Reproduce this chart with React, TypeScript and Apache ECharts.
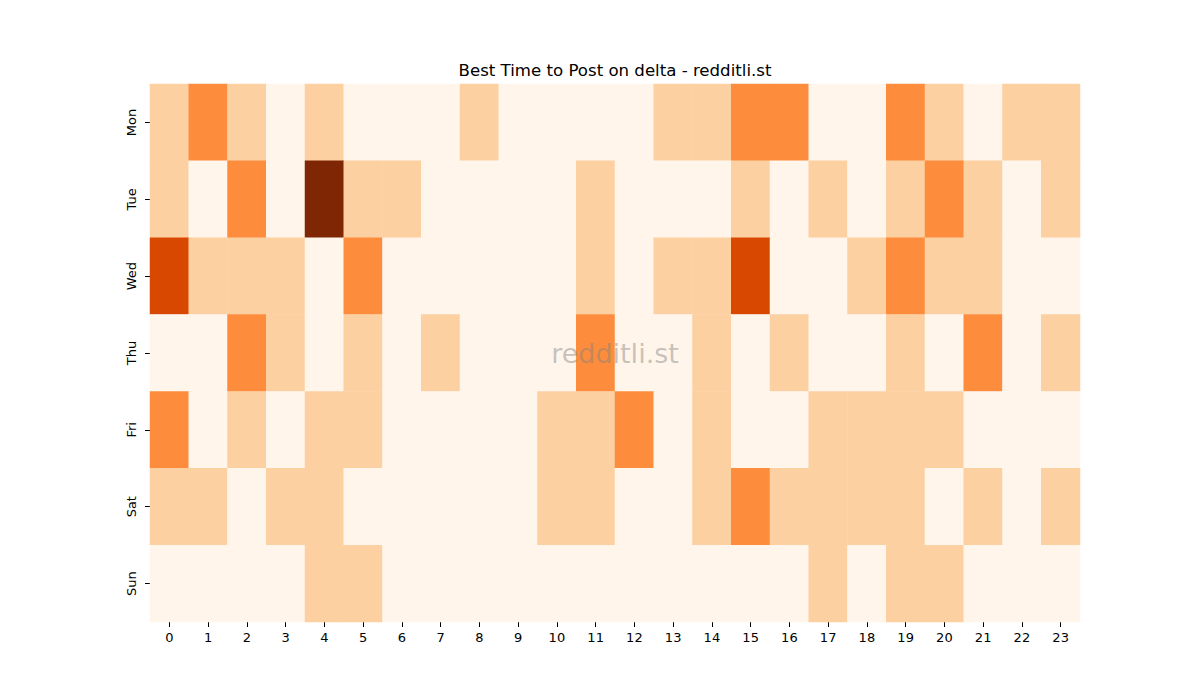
import React, { useEffect, useRef } from "react";
import * as echarts from "echarts";

const hours = Array.from({ length: 24 }, (_, i) => String(i));
const days = ["Mon", "Tue", "Wed", "Thu", "Fri", "Sat", "Sun"];

const mon = [1, 2, 1, 0, 1, 0, 0, 0, 1, 0, 0, 0, 0, 1, 1, 2, 2, 0, 0, 2, 1, 0, 1, 1];
const tue = [1, 0, 2, 0, 4, 1, 1, 0, 0, 0, 0, 1, 0, 0, 0, 1, 0, 1, 0, 1, 2, 1, 0, 1];
const wed = [3, 1, 1, 1, 0, 2, 0, 0, 0, 0, 0, 1, 0, 1, 1, 3, 0, 0, 1, 2, 1, 1, 0, 0];
const thu = [0, 0, 2, 1, 0, 1, 0, 1, 0, 0, 0, 2, 0, 0, 1, 0, 1, 0, 0, 1, 0, 2, 0, 1];
const fri = [2, 0, 1, 0, 1, 1, 0, 0, 0, 0, 1, 1, 2, 0, 1, 0, 0, 1, 1, 1, 1, 0, 0, 0];
const sat = [1, 1, 0, 1, 1, 0, 0, 0, 0, 0, 1, 1, 0, 0, 1, 2, 1, 1, 1, 1, 0, 1, 0, 1];
const sun = [0, 0, 0, 0, 1, 1, 0, 0, 0, 0, 0, 0, 0, 0, 0, 0, 0, 1, 0, 1, 1, 0, 0, 0];
const rows = [mon, tue, wed, thu, fri, sat, sun];

const levelColors = ["#fff5eb", "#fdd0a2", "#fd8d3c", "#d94801", "#7f2704"];

const FONT = "DejaVu Sans";

export default function App() {
  const ref = useRef<HTMLDivElement>(null);
  useEffect(() => {
    document.body.style.margin = "0";
    const chart = echarts.init(ref.current!, null, { renderer: "svg" });
    const data: number[][] = [];
    rows.forEach((r, y) => r.forEach((v, x) => data.push([x, y, v])));
    chart.setOption({
      animation: false,
      backgroundColor: "#ffffff",
      grid: { left: 150, top: 84, width: 930, height: 538, containLabel: false },
      xAxis: {
        type: "category",
        data: hours,
        splitArea: { show: false },
        axisLine: { show: false },
        axisTick: { show: true, alignWithLabel: true, length: 5, lineStyle: { color: "#000", width: 1 } },
        axisLabel: { fontFamily: FONT, fontSize: 13, color: "#000", margin: 9 },
      },
      yAxis: {
        type: "category",
        data: days,
        inverse: true,
        axisLine: { show: false },
        axisTick: { show: true, alignWithLabel: true, length: 5, lineStyle: { color: "#000", width: 1 } },
        axisLabel: { fontFamily: FONT, fontSize: 13, color: "#000", rotate: 90, margin: 12 },
      },
      visualMap: {
        show: false,
        type: "piecewise",
        dimension: 2,
        pieces: levelColors.map((c, i) => ({ value: i, color: c })),
      },
      series: [
        {
          type: "heatmap",
          data,
          itemStyle: { borderWidth: 0 },
          emphasis: { disabled: true },
        },
      ],
      graphic: [
        {
          type: "text",
          x: 615,
          y: 70,
          style: {
            text: "Best Time to Post on delta - redditli.st",
            fontFamily: FONT,
            fontSize: 16.6,
            fill: "#000",
            textAlign: "center",
            textVerticalAlign: "middle",
          },
        },
        {
          type: "text",
          x: 615,
          y: 353,
          style: {
            text: "redditli.st",
            fontFamily: FONT,
            fontSize: 27,
            fill: "rgba(128,128,128,0.45)",
            textAlign: "center",
            textVerticalAlign: "middle",
          },
          z: 100,
        },
      ],
    });
    return () => chart.dispose();
  }, []);
  return <div ref={ref} style={{ width: 1200, height: 700 }} />;
}
